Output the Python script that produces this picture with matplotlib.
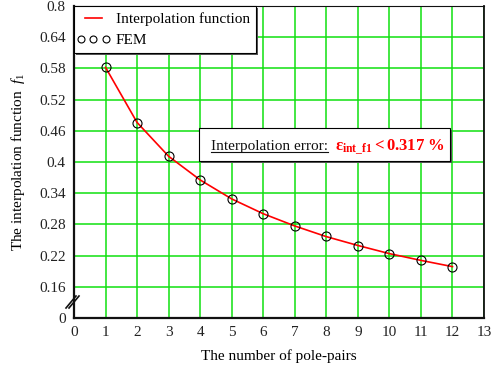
import matplotlib
matplotlib.use("Agg")
import matplotlib.pyplot as plt
import numpy as np
from matplotlib.lines import Line2D
from matplotlib.patches import Rectangle
from matplotlib.legend_handler import HandlerLine2D

plt.rcParams['font.family'] = ['Liberation Serif', 'DejaVu Serif']
plt.rcParams['mathtext.fontset'] = 'custom'
plt.rcParams['mathtext.rm'] = 'Liberation Serif'
plt.rcParams['mathtext.it'] = 'Liberation Serif:italic'
plt.rcParams['mathtext.bf'] = 'Liberation Serif:bold'

# Number of pole-pairs and FEM values of f1
pole_pairs = [1, 2, 3, 4, 5, 6, 7, 8, 9, 10, 11, 12]
fem_f1 = [0.582, 0.475, 0.4115, 0.365, 0.3285, 0.300, 0.2775, 0.2568,
          0.2394, 0.2239, 0.211, 0.1987]
# Interpolation function evaluated at the pole-pair numbers
interp_f1 = [0.582, 0.476, 0.411, 0.3655, 0.329, 0.3005, 0.277, 0.2565,
             0.2395, 0.2238, 0.2108, 0.1988]

# Broken y axis: the 0 and 0.8 labels sit one step outside the linear range
ytick_pos = [0.10, 0.16, 0.22, 0.28, 0.34, 0.40, 0.46, 0.52, 0.58, 0.64, 0.70]
ytick_labels = ['0', '0.16', '0.22', '0.28', '0.34', '0.4', '0.46', '0.52',
                '0.58', '0.64', '0.8']
xticks = list(range(0, 14))

W, H = 493, 369
FS = 11
fig = plt.figure(figsize=(W / 100, H / 100), dpi=100)
ax = fig.add_axes([74 / W, (H - 318) / H, 410 / W, 312 / H])

grid_green = '#10e010'
ax.set_xlim(0, 13)
ax.set_ylim(0.10, 0.70)
ax.set_xticks(xticks)
ax.set_yticks(ytick_pos)
ax.set_yticklabels(ytick_labels)
ax.tick_params(length=0, labelsize=FS, pad=6, colors='#222222')
ax.grid(True, color=grid_green, linewidth=1.1)
ax.set_axisbelow(True)

for side, lw in (('left', 1.6), ('bottom', 1.6), ('right', 1.3), ('top', 0.8)):
    ax.spines[side].set_linewidth(lw)
    ax.spines[side].set_color('#111111')

ax.plot(pole_pairs, interp_f1, color='#ff0000', linewidth=1.2, zorder=3)
ax.plot(pole_pairs, fem_f1, linestyle='none', marker='o', markersize=6.5,
        markerfacecolor='none', markeredgecolor='black', markeredgewidth=0.8,
        zorder=4)

line_handle = Line2D([], [], color='#ff0000', linewidth=1.2)
fem_handle = Line2D([], [], linestyle='none', marker='o', markersize=5,
                    markerfacecolor='none', markeredgecolor='black',
                    markeredgewidth=0.8)
leg = ax.legend([line_handle, fem_handle], ['Interpolation function', 'FEM'],
                loc='upper left', handler_map={fem_handle: HandlerLine2D(marker_pad=0.05)},
                bbox_to_anchor=(0, 1), borderaxespad=0, fancybox=False,
                shadow=False, edgecolor='black',
                framealpha=1, prop={'size': FS}, numpoints=3,
                handlelength=1.75, handletextpad=0.6, borderpad=0.4,
                labelspacing=0.5)
leg.get_frame().set_linewidth(0.8)
leg.set_zorder(6)

inv = ax.transAxes.inverted()
dx, dy = 1.5 / 410, 1.5 / 312


def add_shadow(x0, y0, w, h):
    ax.add_patch(Rectangle((x0 + dx, y0 - dy), w, h, transform=ax.transAxes,
                           facecolor='#555555', edgecolor='none', zorder=5,
                           clip_on=False))


# Shadow behind the legend frame
fig.canvas.draw()
lb = leg.get_frame().get_window_extent(renderer=fig.canvas.get_renderer())
(lx0, ly0), (lx1, ly1) = inv.transform([(lb.x0, lb.y0), (lb.x1, lb.y1)])
add_shadow(lx0, ly0, lx1 - lx0, ly1 - ly0)

# Interpolation error box
bx0, bx1 = (199 - 74) / 410, (450 - 74) / 410
by0, by1 = (318 - 161) / 312, (318 - 128) / 312
add_shadow(bx0, by0, bx1 - bx0, by1 - by0)
ax.add_patch(Rectangle((bx0, by0), bx1 - bx0, by1 - by0, transform=ax.transAxes,
                       facecolor='white', edgecolor='black', linewidth=0.8,
                       zorder=5.5))
ty = (318 - 147) / 312
t1 = ax.text((211 - 74) / 410, ty, 'Interpolation error:', transform=ax.transAxes,
             fontsize=FS, color='#111111', va='center', ha='left', zorder=7)
ax.text((335 - 74) / 410, ty, r'$\mathbf{\varepsilon_{int\_f1}<0.317\ \%}$',
        transform=ax.transAxes, fontsize=12, color='#ff0000', va='center',
        ha='left', zorder=7)

# Underline for the error caption
fig.canvas.draw()
bb = t1.get_window_extent(renderer=fig.canvas.get_renderer())
(ux0, uy0), (ux1, _) = inv.transform([(bb.x0, bb.y0 + 1), (bb.x1, bb.y0)])
ax.add_line(Line2D([ux0, ux1], [uy0, uy0], transform=ax.transAxes,
                   color='#111111', linewidth=0.8, zorder=7))

# Axis break marks on the left spine
for off in (-3, 0):
    yb = (318 - 302) / 312
    ax.add_line(Line2D([(-5 + off) / 410, (5 + off) / 410],
                       [yb - 6 / 312, yb + 6 / 312], transform=ax.transAxes,
                       color='#111111', linewidth=1.2, clip_on=False, zorder=8))

ax.set_xlabel('The number of pole-pairs', fontsize=FS, labelpad=7)
ax.set_ylabel(r'The interpolation function  $\mathit{f}_{1}$', fontsize=FS,
              labelpad=9)

fig.savefig('out.png', dpi=100)
